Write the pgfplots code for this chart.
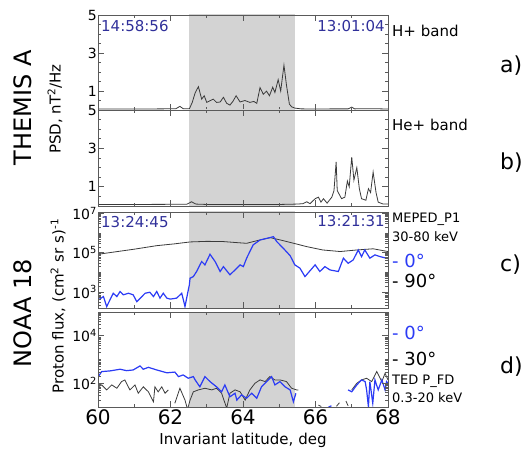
\documentclass[border=0pt]{standalone}
\usepackage{fontspec}
\setmainfont{DejaVu Sans}
\usepackage{pgfplots}
\pgfplotsset{compat=1.18}
\definecolor{shade}{HTML}{D3D3D3}
\definecolor{lblue}{HTML}{2B3BF5}
\definecolor{tblue}{HTML}{30309A}
\definecolor{dline}{HTML}{3A3A3A}
\definecolor{frame}{HTML}{5A5A5A}
\newcommand{\fs}[1]{\fontsize{#1}{#1}\selectfont}
\pgfplotsset{
  panel/.style={scale only axis, width=290pt, xmin=60, xmax=68,
    axis line style={frame, line width=0.8pt},
    every tick/.style={frame, line width=0.6pt},
    xtick={60,62,64,66,68}, minor xtick={61,63,65,67},
    tick align=inside, major tick length=6pt, minor tick length=3pt,
    xticklabels={}, axis on top, unbounded coords=jump,
    /pgf/number format/assume math mode=true,
    yticklabel style={font=\fs{14}, inner sep=1pt},
    xticklabel style={font=\fs{20}, inner sep=1pt, yshift=-1pt},
    anchor=south west},
  psd/.style={panel, ymin=0, ymax=5, ytick={1,3,5}, minor ytick={0.5,1.5,2,2.5,3.5,4,4.5}},
}
\def\minorlog{200,300,400,500,600,700,800,900,2000,3000,4000,5000,6000,7000,8000,9000,10000,20000,30000,40000,50000,60000,70000,80000,90000,200000,300000,400000,500000,600000,700000,800000,900000,1000000,2000000,3000000,4000000,5000000,6000000,7000000,8000000,9000000}
\def\minorlogd{20,30,40,50,60,70,80,90,200,300,400,500,600,700,800,900,1000,2000,3000,4000,5000,6000,7000,8000,9000,20000,30000,40000,50000,60000,70000,80000,90000}
\begin{document}
\begin{tikzpicture}
\path[use as bounding box] (0pt,0pt) rectangle (528pt,448pt);
% panel a
\begin{axis}[psd, at={(98pt,338pt)}, height=95pt]
\addplot[fill=shade, draw=none, forget plot] coordinates {(62.52,-1) (62.52,10) (65.43,10) (65.43,-1)} -- cycle;
\addplot[dline, line width=0.8pt] coordinates {
(60,0.05) (61,0.05) (61.8,0.06) (62.15,0.07) (62.26,0.19) (62.35,0.07) (62.52,0.06)
(62.6,0.4) (62.68,0.9) (62.77,1.23) (62.86,0.57) (62.93,0.75) (63.0,0.4) (63.1,0.5) (63.18,0.57) (63.27,0.4) (63.37,0.42)
(63.46,0.67) (63.55,0.35) (63.64,0.26) (63.72,0.45) (63.81,0.75) (63.92,0.42) (64.05,0.5) (64.19,0.4) (64.3,0.45) (64.38,0.35)
(64.47,1.18) (64.56,0.83) (64.65,0.99) (64.73,0.75) (64.82,1.2) (64.88,0.92) (64.97,1.6) (65.04,1.0) (65.13,2.36)
(65.2,1.3) (65.28,0.31) (65.34,0.17) (65.43,0.1) (65.6,0.06) (66,0.05) (66.5,0.06) (66.9,0.06) (67.0,0.15) (67.08,0.06) (67.6,0.07) (68,0.05)};
\end{axis}
% panel b
\begin{axis}[psd, at={(98pt,242pt)}, height=96pt]
\addplot[fill=shade, draw=none, forget plot] coordinates {(62.52,-1) (62.52,10) (65.43,10) (65.43,-1)} -- cycle;
\addplot[dline, line width=0.8pt] coordinates {
(60,0.08) (61,0.08) (62.45,0.09) (62.58,0.22) (62.7,0.1) (63,0.08) (64,0.08) (65,0.08) (65.48,0.1)
(65.65,0.12) (65.76,0.22) (65.85,0.12) (65.99,0.38) (66.08,0.46) (66.15,0.2) (66.22,0.38) (66.32,0.15)
(66.45,0.46) (66.51,0.8) (66.57,2.3) (66.6,0.8) (66.72,0.38) (66.81,0.46) (66.88,1.3) (66.93,1.0) (67.0,2.55)
(67.06,1.35) (67.14,2.0) (67.21,0.9) (67.27,0.38) (67.39,0.3) (67.46,0.9) (67.52,0.7) (67.59,1.77)
(67.67,0.7) (67.73,0.2) (67.87,0.1) (68,0.1)};
\end{axis}
% panel c
\begin{axis}[panel, at={(98pt,140pt)}, height=96pt, ymode=log, ymin=150, ymax=1.2e7,
  ytick={1e3,1e5,1e7}, yticklabels={10\textsuperscript{3},10\textsuperscript{5},10\textsuperscript{7}},
  minor ytick/.expanded={\minorlog}]
\addplot[fill=shade, draw=none, forget plot] coordinates {(62.52,10) (62.52,1e8) (65.43,1e8) (65.43,10)} -- cycle;
\addplot[dline, line width=0.8pt] table[y expr=10^\thisrowno{1}] {
60.00 4.92
60.5 5.05
61.0 5.18
61.62 5.36
62.1 5.45
62.54 5.55
63.0 5.58
63.45 5.57
63.8 5.52
64.1 5.48
64.4 5.62
64.75 5.77
65.1 5.62
65.57 5.40
65.76 5.31
66.2 5.14
66.68 5.06
67.14 5.14
67.59 5.20
68.0 5.06
};
\addplot[lblue, line width=1.2pt] table[y expr=10^\thisrowno{1}] {
60.01 2.59
60.15 2.76
60.24 2.25
60.42 2.93
60.52 2.76
60.61 3.02
60.70 2.85
60.84 2.93
60.97 2.85
61.07 2.50
61.21 2.76
61.30 2.93
61.43 2.98
61.53 2.76
61.62 3.02
61.71 2.68
61.80 2.93
61.90 2.68
61.99 2.63
62.17 2.68
62.31 2.93
62.40 2.25
62.52 3.36
62.54 3.70
62.63 3.78
62.72 4.04
62.86 4.55
62.95 4.38
63.09 4.92
63.23 4.55
63.37 4.04
63.46 4.29
63.64 3.87
63.83 4.21
63.92 4.38
64.01 4.29
64.10 4.72
64.28 5.40
64.47 5.65
64.74 5.77
64.84 5.82
64.93 5.57
65.11 5.23
65.30 4.85
65.43 4.38
65.57 4.21
65.71 3.78
65.99 4.38
66.12 4.04
66.26 4.29
66.40 4.12
66.63 4.04
66.77 4.72
66.90 4.46
67.04 4.63
67.18 5.14
67.27 4.80
67.36 5.14
67.50 4.72
67.64 4.89
67.78 4.80
67.96 4.72
68.00 4.70
};
\end{axis}
% panel d
\begin{axis}[panel, at={(98pt,41pt)}, height=95pt, ymode=log, ymin=10, ymax=1e5,
  ytick={1e2,1e4}, yticklabels={10\textsuperscript{2},10\textsuperscript{4}},
  minor ytick/.expanded={\minorlogd},
  xticklabels={60,62,64,66,68}]
\addplot[fill=shade, draw=none, forget plot] coordinates {(62.52,1) (62.52,1e6) (65.43,1e6) (65.43,1)} -- cycle;
\addplot[dline, line width=0.8pt] table[y expr=10^\thisrowno{1}] {
60.01 1.85
60.10 1.93
60.24 1.72
60.38 1.93
60.52 1.79
60.65 2.07
60.74 2.14
60.88 1.72
61.02 1.93
61.11 1.58
61.25 1.85
61.39 1.64
61.53 1.22
61.57 1.85
61.66 1.64
61.76 1.85
61.85 1.58
61.94 1.72
62.0 nan
62.12 1.16
62.26 1.79
62.40 1.29
62.47 0.9
62.54 1.29
62.63 1.64
62.77 1.72
62.95 1.79
63.14 1.72
63.27 1.79
63.41 1.58
63.55 0.95
63.64 1.58
63.78 1.72
63.92 1.64
64.06 1.29
64.19 1.72
64.33 2.00
64.47 2.14
64.61 2.07
64.74 2.28
64.88 2.14
65.02 2.14
65.20 2.07
65.34 1.79
65.48 1.72
65.53 1.72
65.6 nan
66.08 1.08
66.16 1.02
66.2 nan
66.58 1.03
66.66 1.18
66.7 nan
66.84 1.25
66.9 1.05
66.95 nan
67.00 1.72
67.14 2.00
67.27 2.14
67.41 2.21
67.55 2.07
67.69 2.49
67.83 2.07
67.92 2.42
68.00 2.14
};
\addplot[lblue, line width=1.2pt] table[y expr=10^\thisrowno{1}] {
60.01 2.28
60.10 2.49
60.33 2.52
60.61 2.59
60.79 2.53
60.97 2.56
61.16 2.73
61.25 2.59
61.39 2.67
61.62 2.56
61.90 2.44
62.12 2.47
62.22 2.28
62.35 2.35
62.49 2.21
62.63 2.28
62.68 2.14
62.81 1.85
62.95 2.28
63.09 2.07
63.27 1.85
63.41 1.64
63.50 1.93
63.64 1.43
63.78 1.58
63.83 1.29
63.96 1.51
64.10 1.37
64.24 1.58
64.38 1.37
64.51 1.85
64.65 2.07
64.79 2.28
64.88 1.93
65.02 2.07
65.16 1.85
65.30 1.72
65.39 1.22
65.46 1.58
65.5 nan
66.36 1.0
66.44 1.05
66.5 nan
66.90 1.72
67.00 1.64
67.14 1.93
67.27 2.14
67.37 2.07
67.41 1.72
67.46 1.01
67.50 2.07
67.58 1.16
67.64 2.14
67.73 1.72
67.83 2.14
67.92 1.72
67.96 2.07
68.00 2.0
};
\end{axis}
% left labels
\node[rotate=90, font=\fs{24}] at (22.5pt,340pt) {THEMIS A};
\node[rotate=90, font=\fs{15}] at (55pt,339pt) {PSD, nT\textsuperscript{2}/Hz};
\node[rotate=90, font=\fs{24}] at (22.5pt,135pt) {NOAA 18};
\node[rotate=90, font=\fs{15}] at (58pt,142pt) {Proton flux, (cm\textsuperscript{2} sr s)\textsuperscript{-1}};
% time labels
\node[anchor=west, text=tblue, font=\fs{15}, inner sep=0pt] at (101pt,422pt) {14:58:56};
\node[anchor=east, text=tblue, font=\fs{15}, inner sep=0pt] at (385pt,422pt) {13:01:04};
\node[anchor=west, text=tblue, font=\fs{15}, inner sep=0pt] at (101pt,226pt) {13:24:45};
\node[anchor=east, text=tblue, font=\fs{15}, inner sep=0pt] at (385pt,227pt) {13:21:31};
% right labels
\node[anchor=west, font=\fs{15}, inner sep=0pt] at (392pt,417pt) {H+ band};
\node[anchor=west, font=\fs{15}, inner sep=0pt] at (392pt,323pt) {He+ band};
\node[anchor=west, font=\fs{13}, inner sep=0pt] at (392pt,229pt) {MEPED\_P1};
\node[anchor=west, font=\fs{13}, inner sep=0pt] at (392pt,211pt) {30-80 keV};
\node[anchor=west, font=\fs{18}, inner sep=0pt, text=lblue] at (392pt,187pt) {- 0°};
\node[anchor=west, font=\fs{18}, inner sep=0pt] at (392pt,167pt) {- 90°};
\node[anchor=west, font=\fs{18}, inner sep=0pt, text=lblue] at (392pt,115pt) {- 0°};
\node[anchor=west, font=\fs{18}, inner sep=0pt] at (392pt,89pt) {- 30°};
\node[anchor=west, font=\fs{13}, inner sep=0pt] at (392pt,67pt) {TED P\_FD};
\node[anchor=west, font=\fs{13}, inner sep=0pt] at (392pt,50pt) {0.3-20 keV};
\node[anchor=west, font=\fs{22}, inner sep=0pt] at (500pt,382pt) {a)};
\node[anchor=west, font=\fs{22}, inner sep=0pt] at (500pt,285pt) {b)};
\node[anchor=west, font=\fs{22}, inner sep=0pt] at (500pt,183pt) {c)};
\node[anchor=west, font=\fs{22}, inner sep=0pt] at (500pt,81pt) {d)};
% x label
\node[font=\fs{15}, anchor=south, inner sep=0.5pt] at (243pt,0pt) {Invariant latitude, deg};
\end{tikzpicture}
\end{document}
